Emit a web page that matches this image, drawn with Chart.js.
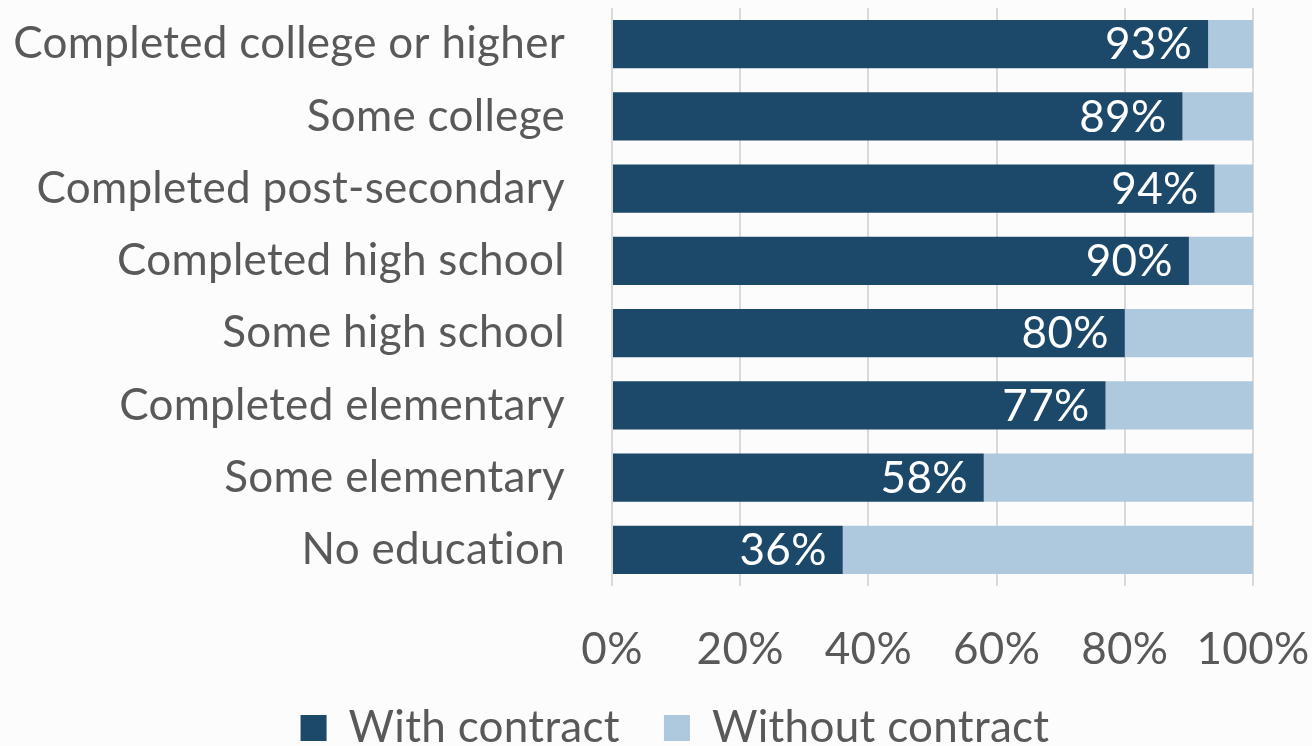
<!DOCTYPE html>
<html>
<head>
<meta charset="utf-8">
<script src="https://cdn.jsdelivr.net/npm/chart.js@4"></script>
<style>
  html, body { margin: 0; padding: 0; background: #fcfcfc; overflow: hidden; }
  #wrap { position: relative; width: 1312px; height: 776px; }
</style>
</head>
<body>
<div id="wrap"><canvas id="chart"></canvas></div>
<script>
const categories = [
  'Completed college or higher',
  'Some college',
  'Completed post-secondary',
  'Completed high school',
  'Some high school',
  'Completed elementary',
  'Some elementary',
  'No education'
];
const withContract = [93, 89, 94, 90, 80, 77, 58, 36];
const withoutContract = [7, 11, 6, 10, 20, 23, 42, 64];
const xTicks = [0, 20, 40, 60, 80, 100];
const seriesNames = ['With contract', 'Without contract'];

const FONT = 'Lato';
const SIZE = 44;
const TEXT = '#595959';
const LEGEND_GAP = 44;

// Slight tracking keeps Lato from forming ligatures
const textTracking = {
  id: 'textTracking',
  beforeLayout(chart) { chart.ctx.letterSpacing = '0.3px'; },
  beforeDraw(chart) { chart.ctx.letterSpacing = '0.3px'; }
};

// White percentage labels at the inner end of each dark bar
const valueLabels = {
  id: 'valueLabels',
  afterDatasetsDraw(chart) {
    const ctx = chart.ctx;
    const meta = chart.getDatasetMeta(0);
    ctx.save();
    ctx.font = SIZE + 'px ' + FONT;
    ctx.fillStyle = '#ffffff';
    ctx.textAlign = 'right';
    ctx.textBaseline = 'middle';
    meta.data.forEach((bar, i) => {
      ctx.fillText(withContract[i] + '%', bar.x - 16, bar.y + 1);
    });
    ctx.restore();
  }
};

// Legend row sits a little right of centre, just under the axis labels
const legendPlacement = {
  id: 'legendPlacement',
  afterLayout(chart) {
    const lg = chart.legend;
    const dx = 675 - (lg.left + lg.right) / 2;
    const dy = 728 - (lg.top + LEGEND_GAP + SIZE / 2);
    lg.left += dx; lg.right += dx;
    lg.top += dy; lg.bottom += dy;
  }
};

new Chart(document.getElementById('chart'), {
  type: 'bar',
  data: {
    labels: categories,
    datasets: [
      { label: seriesNames[0], data: withContract, backgroundColor: '#1c4869' },
      { label: seriesNames[1], data: withoutContract, backgroundColor: '#aec8de' }
    ]
  },
  options: {
    indexAxis: 'y',
    responsive: true,
    maintainAspectRatio: false,
    animation: false,
    devicePixelRatio: 1,
    layout: { padding: { left: 0, right: 59, top: 8, bottom: 0 } },
    datasets: { bar: { barPercentage: 0.667, categoryPercentage: 1.0 } },
    scales: {
      x: {
        stacked: true,
        min: 0,
        max: 100,
        afterBuildTicks(scale) { scale.ticks = xTicks.map(v => ({ value: v })); },
        afterFit(scale) { scale.height = 92; },
        grid: { color: '#d9d9d9', lineWidth: 2, drawTicks: true, tickLength: 37, tickColor: 'rgba(0,0,0,0)' },
        border: { display: false },
        ticks: {
          padding: 0,
          color: TEXT,
          font: { family: FONT, size: SIZE },
          maxRotation: 0,
          callback: v => v + '%'
        }
      },
      y: {
        stacked: true,
        afterFit(scale) { scale.width = 612; },
        grid: { display: false, drawTicks: true, tickLength: 47 },
        border: { display: false },
        ticks: {
          padding: 0,
          color: TEXT,
          font: { family: FONT, size: SIZE, lineHeight: 0.3 }
        }
      }
    },
    plugins: {
      tooltip: { enabled: false },
      legend: {
        position: 'bottom',
        labels: {
          color: TEXT,
          font: { family: FONT, size: SIZE },
          boxWidth: 26,
          boxHeight: 26,
          padding: LEGEND_GAP
        }
      }
    }
  },
  plugins: [textTracking, valueLabels, legendPlacement]
});
</script>
</body>
</html>
